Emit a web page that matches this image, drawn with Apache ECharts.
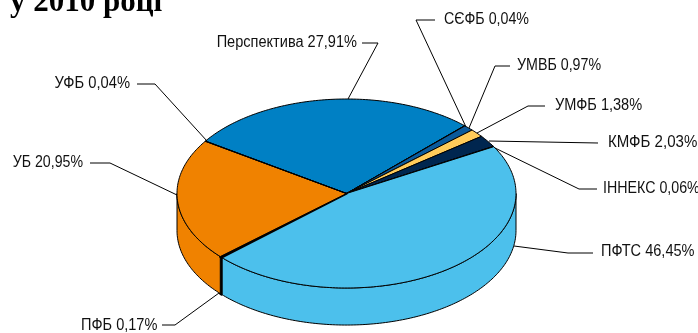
<!DOCTYPE html>
<html>
<head>
<meta charset="utf-8">
<style>html,body{margin:0;padding:0;background:#fff}#c{width:698px;height:333px}</style>
<script src="https://cdn.jsdelivr.net/npm/echarts@6/dist/echarts.min.js"></script>
</head>
<body>
<div id="c"></div>
<script>
// Data: slices clockwise, starting at the Перспектива / УФБ boundary
const sliceNames = ['Перспектива','СЄФБ','УМВБ','УМФБ','КМФБ','ІННЕКС','ПФТС','ПФБ','УБ','УФБ'];
const sliceValues = [27.91,0.04,0.97,1.38,2.03,0.06,46.45,0.17,20.95,0.04];
const tickLabels = ['27,91%','0,04%','0,97%','1,38%','2,03%','0,06%','46,45%','0,17%','20,95%','0,04%'];
const sliceColors = ['#0080c4','#0a5a9c','#0a5a9c','#ffcb5a','#00264f','#00264f','#4cc0ec','#00264f','#f08200','#0080c4'];
const titleText = 'у 2010 році';

// Layout (kept apart from the data)
const startAngle = -56.3;
const depth = 0.392;          // pie thickness in y-axis units
const edgeWidth = [1,1,1,1,1,1,1,2.5,1,1];
const textAnchor = [[357,43,'right',0.91],[444,20,'left',0.89],[517,66,'left',0.89],[555,106,'left',0.91],[608,143,'left',0.94],[603,189,'left',0.89],[601,252,'left',0.91],[81,326,'left',0.91],[83,163,'right',0.885],[130,84,'right',0.92]];
const leaders = [
  [[362,43],[378,43],[348,99]],
  [[435,20],[416,20],[466,127]],
  [[510,66],[495,66],[469,128]],
  [[545,106],[528,106],[477,133]],
  [[598,143],[489,141]],
  [[597,189],[579,189],[495,148]],
  [[593,253],[568,253],[514,246]],
  [[162,325],[175,325],[219,293]],
  [[90,163],[110,163],[177,195]],
  [[137,84],[155,84],[207,141]]
];

const total = sliceValues.reduce((a,b)=>a+b,0);
let running = startAngle;
const spans = sliceValues.map(v=>{const a=running; running+=v/total*360; return [a,running];});

function rim(deg,drop){
  const r=deg*Math.PI/180;
  return [Math.sin(r),Math.cos(r)-(drop||0)];
}
function arc(a0,a1,drop){
  const n=Math.max(2,Math.ceil(Math.abs(a1-a0)));
  const out=[];
  for(let i=0;i<=n;i++) out.push(rim(a0+(a1-a0)*i/n,drop));
  return out;
}
function renderSide(params,api){
  const i=params.dataIndex;
  // the visible wall is the front half of the disc (90°..270° clockwise from top)
  const s=spans[i];
  const parts=[];
  [[90,270],[450,630]].forEach(w=>{
    const a=Math.max(s[0],w[0]),b=Math.min(s[1],w[1]);
    if(b>a) parts.push([a,b]);
  });
  return {type:'group',children:parts.map(p=>({
    type:'polygon',
    shape:{points:arc(p[0],p[1],0).concat(arc(p[1],p[0],depth)).map(q=>api.coord(q))},
    style:{fill:sliceColors[i],stroke:'#000',lineWidth:edgeWidth[i],lineJoin:'round'}
  }))};
}
function renderTop(params,api){
  const i=params.dataIndex,s=spans[i];
  const pts=[[0,0]].concat(arc(s[0],s[1],0)).map(q=>api.coord(q));
  return {type:'polygon',shape:{points:pts},
    style:{fill:sliceColors[i],stroke:'#000',lineWidth:edgeWidth[i],lineJoin:'round'}};
}
function renderLabel(params,api){
  const i=params.dataIndex,t=textAnchor[i];
  return {type:'group',children:[
    {type:'polyline',shape:{points:leaders[i]},style:{fill:'none',stroke:'#000',lineWidth:1}},
    {type:'text',x:t[0],y:t[1],scaleX:t[3],style:{text:sliceNames[i]+' '+tickLabels[i],x:0,y:0,textAlign:t[2],textVerticalAlign:'middle',
      fill:'#111',font:'16px "Liberation Sans",sans-serif'}}
  ]};
}
const xy=sliceValues.map((v,i)=>[0,v]);
const chart=echarts.init(document.getElementById('c'),null,{renderer:'canvas'});
chart.setOption({
  animation:false,
  backgroundColor:'#fff',
  title:{text:titleText,left:10,top:-13,padding:0,textStyle:{fontFamily:'"Liberation Serif",serif',fontWeight:'bold',fontSize:31,color:'#000'}},
  grid:{left:177,top:99,width:339,height:189},
  xAxis:{type:'value',min:-1,max:1,show:false},
  yAxis:{type:'value',min:-1,max:1,show:false},
  tooltip:{show:false},
  series:[
    {type:'custom',coordinateSystem:'cartesian2d',data:xy,renderItem:renderSide,silent:true,z:2,clip:false},
    {type:'custom',coordinateSystem:'cartesian2d',data:xy,renderItem:renderTop,silent:true,z:3,clip:false},
    {type:'custom',coordinateSystem:'cartesian2d',data:xy,renderItem:renderLabel,silent:true,z:4,clip:false}
  ]
});
</script>
</body>
</html>
